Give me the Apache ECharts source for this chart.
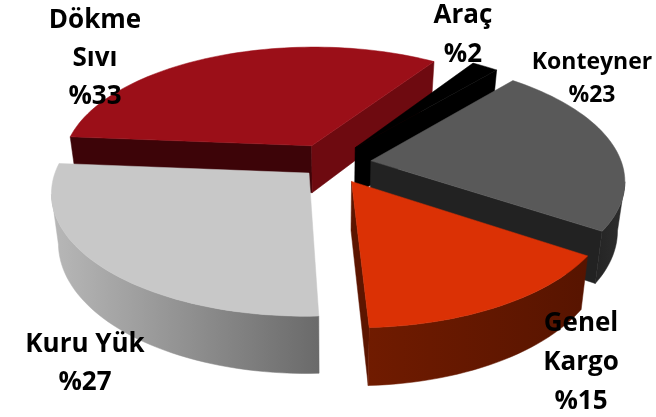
<!DOCTYPE html>
<html><head><meta charset="utf-8">
<style>html,body{margin:0;padding:0;background:#fff}#c{width:656px;height:417px}</style>
<script src="https://cdn.jsdelivr.net/npm/echarts@6/dist/echarts.min.js"></script></head>
<body><div id="c"></div>
<script>
// data
const categories = ['Araç','Konteyner','Genel Kargo','Kuru Yük','Dökme Sıvı'];
const values = [2,23,15,27,33];
const labelLines = [['Araç','%2'],['Konteyner','%23'],['Genel','Kargo','%15'],['Kuru Yük','%27'],['Dökme','Sıvı','%33']];
// style and layout
const explode = [0.17,0.165,0.17,0.115,0.17];
const topColors = ['#000000','#595959','#db3105','#c8c8c8','#9b0f18'];
const radialColorsEnd = ['#000000','#222222','#5c1500','#8a8a8a','#6e0a10'];
const radialColorsStart = ['#000000','#222222','#5c1500','#8a8a8a','#3d0408'];
const wallGrad = [['#000000','#000000'],['#242424','#2e2e2e'],['#701b00','#571400'],['#b8b8b8','#6a6a6a'],['#6e0a10','#3d0408']];
const labelPos = [[463,35],[592,79],[581,363],[85,364],[95,59]];
const labelSize = [26,23,26,26,26];
const labelLH = [39,33,39,38,38];
const drawOrder = [4,0,1,3,2];
const startAngle = 33.4, cx = 330, cy = 163.5, S = 251, K = 0.472, P = 0.15, H = 48, SHRINK = 0.975;

const total = values.reduce((a,b)=>a+b,0);
const starts = []; let acc = startAngle;
values.forEach(v=>{starts.push(acc); acc += v/total*360;});

function proj(x,z){ const w=1/(1-P*z); return {X:cx+S*x*w, Y:cy+S*K*z*w, w}; }
function topPt(p){ return [p.X,p.Y]; }
function botPt(p){ return [cx+(p.X-cx)*SHRINK, p.Y+H*p.w]; }

function sliceChildren(i){
  const a0=starts[i]*Math.PI/180, a1=(starts[i]+values[i]/total*360)*Math.PI/180, mid=(a0+a1)/2;
  const ox=explode[i]*Math.sin(mid), oz=-explode[i]*Math.cos(mid);
  const apex=proj(ox,oz), arc=[]; const n=Math.max(4,Math.round(values[i]*2));
  for(let j=0;j<=n;j++){const a=a0+(a1-a0)*j/n; arc.push(proj(ox+Math.sin(a),oz-Math.cos(a)));}
  const ch=[], poly=(pts,fill)=>ch.push({type:'polygon',shape:{points:pts},style:{fill:fill,stroke:fill,lineWidth:0.5}});
  const p0=arc[0], p1=arc[n];
  const wall=(a,b,col,sign)=>{
    const cross=(b.X-a.X)*(botPt(a)[1]-a.Y)-(b.Y-a.Y)*(botPt(a)[0]-a.X);
    if(cross*sign>0) poly([topPt(a),topPt(b),botPt(b),botPt(a)],col);
  };
  wall(apex,p0,radialColorsStart[i],-1);
  wall(apex,p1,radialColorsEnd[i],1);
  const vis=[]; for(let j=0;j<n;j++){ if(arc[j+1].X<arc[j].X+1e-6) vis.push(j); }
  if(vis.length){
    const f=vis[0], l=vis[vis.length-1]+1, pts=[];
    for(let j=f;j<=l;j++)pts.push(topPt(arc[j]));
    for(let j=l;j>=f;j--)pts.push(botPt(arc[j]));
    const g=wallGrad[i];
    poly(pts,{type:'linear',x:0,y:0,x2:1,y2:0,colorStops:[{offset:0,color:g[0]},{offset:1,color:g[1]}]});
  }
  poly([topPt(apex)].concat(arc.map(topPt)),topColors[i]);
  return ch;
}

const chart = echarts.init(document.getElementById('c'),null,{renderer:'canvas'});
chart.setOption({
  animation:false, backgroundColor:'#ffffff',
  series:[
    {type:'custom',coordinateSystem:'none',silent:true,z:2,
     data:drawOrder.map(i=>({name:categories[i],value:[i,values[i]]})),
     renderItem:(params,api)=>({type:'group',children:sliceChildren(api.value(0))})},
    {type:'custom',coordinateSystem:'none',silent:true,z:5,
     data:categories.map((c,i)=>({name:c,value:[i,values[i]]})),
     renderItem:(params,api)=>{
       const i=api.value(0), lines=labelLines[i], n=lines.length;
       return {type:'group',children:lines.map((t,j)=>({type:'text',
         x:labelPos[i][0], y:labelPos[i][1]+(j-(n-1)/2)*labelLH[i],
         style:{text:t,fill:'#000',font:'bold '+labelSize[i]+'px "Open Sans"',align:'center',verticalAlign:'middle'}}))};
     }}
  ]
});
</script></body></html>
